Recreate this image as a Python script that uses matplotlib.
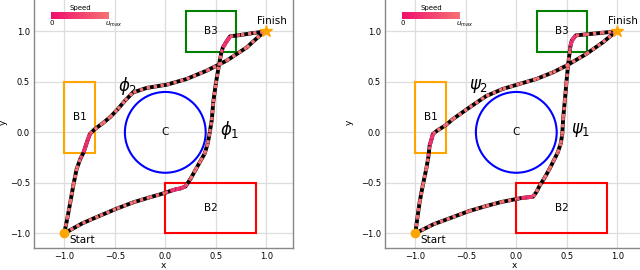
import numpy as np
import matplotlib
matplotlib.use("Agg")
import matplotlib.pyplot as plt
from matplotlib.patches import Rectangle, Circle
from matplotlib.collections import LineCollection
from matplotlib.colors import LinearSegmentedColormap

# ---------------- data ----------------
ticks = [-1.0, -0.5, 0.0, 0.5, 1.0]
tick_labels = ["\u22121.0", "\u22120.5", "0.0", "0.5", "1.0"]

# obstacles: (x0, y0, w, h)
box_B1 = (-1.0, -0.2, 0.3, 0.7)
box_B2 = (0.0, -1.0, 0.9, 0.5)
box_B3 = (0.2, 0.8, 0.5, 0.4)
circle_C = (0.0, 0.0, 0.4)
start = (-1.0, -1.0)
finish = (1.0, 1.0)

# left plot (phi)
phi1_x = [-1.0, -0.82, -0.647, -0.48, -0.317, -0.16, -0.003, 0.05, 0.10, 0.15, 0.20,
          0.25, 0.30, 0.35, 0.39, 0.42, 0.44, 0.46, 0.475, 0.50, 0.53, 0.555,
          0.57, 0.60, 0.64, 0.75, 0.87, 1.0]
phi1_y = [-1.0, -0.90, -0.825, -0.755, -0.693, -0.645, -0.60, -0.58, -0.565, -0.555, -0.535,
          -0.46, -0.37, -0.28, -0.21, -0.11, 0.0, 0.12, 0.30, 0.48, 0.66, 0.79,
          0.84, 0.89, 0.95, 0.965, 0.983, 1.0]
phi1_v = [1.0, 1.0, 1.0, 1.0, 1.0, 1.0, 0.9, 0.35, 0.3, 0.3, 0.4,
          1.0, 1.0, 1.0, 1.0, 1.0, 1.0, 1.0, 1.0, 1.0, 1.0, 0.9,
          0.35, 0.3, 0.4, 1.0, 1.0, 1.0]

phi2_x = [-1.0, -0.97, -0.94, -0.91, -0.877, -0.84, -0.81, -0.79, -0.77, -0.746,
          -0.70, -0.62, -0.548, -0.47, -0.399, -0.317, -0.184, 0.014, 0.21, 0.41, 0.607, 0.805, 0.953, 1.0]
phi2_y = [-1.0, -0.85, -0.69, -0.52, -0.36, -0.26, -0.20, -0.14, -0.08, -0.016,
          0.03, 0.09, 0.149, 0.23, 0.314, 0.396, 0.44, 0.472, 0.528, 0.611, 0.71, 0.84, 0.974, 1.0]
phi2_v = [1.0, 1.0, 1.0, 1.0, 1.0, 0.9, 0.35, 0.3, 0.3, 0.4,
          1.0, 1.0, 1.0, 1.0, 1.0, 1.0, 1.0, 1.0, 1.0, 1.0, 1.0, 1.0, 1.0, 1.0]

# right plot (psi)
psi1_x = [-1.0, -0.82, -0.63, -0.47, -0.30, -0.15, 0.0, 0.05, 0.10, 0.165,
          0.20, 0.23, 0.28, 0.33, 0.37, 0.41, 0.44, 0.455, 0.465, 0.48, 0.495, 0.51, 0.53,
          0.535, 0.55, 0.59, 0.69, 0.84, 1.0]
psi1_y = [-1.0, -0.91, -0.84, -0.78, -0.73, -0.69, -0.66, -0.65, -0.645, -0.637,
          -0.59, -0.53, -0.45, -0.36, -0.28, -0.20, -0.11, -0.02, 0.15, 0.31, 0.48, 0.64, 0.81,
          0.85, 0.91, 0.96, 0.97, 0.985, 1.0]
psi1_v = [1.0, 1.0, 1.0, 1.0, 1.0, 1.0, 0.9, 0.35, 0.3, 0.4,
          1.0, 1.0, 1.0, 1.0, 1.0, 1.0, 1.0, 1.0, 1.0, 1.0, 1.0, 1.0, 0.9,
          0.35, 0.3, 0.4, 1.0, 1.0, 1.0]

psi2_x = [-1.0, -0.98, -0.957, -0.925, -0.891, -0.87, -0.858, -0.84, -0.826,
          -0.78, -0.70, -0.628, -0.462, -0.297, -0.133, 0.033, 0.198, 0.363, 0.495, 0.693, 0.858, 0.957, 1.0]
psi2_y = [-1.0, -0.85, -0.69, -0.52, -0.36, -0.24, -0.13, -0.07, -0.016,
          0.02, 0.07, 0.131, 0.248, 0.36, 0.43, 0.48, 0.528, 0.594, 0.66, 0.776, 0.892, 0.974, 1.0]
psi2_v = [1.0, 1.0, 1.0, 1.0, 1.0, 0.9, 0.35, 0.3, 0.4,
          1.0, 1.0, 1.0, 1.0, 1.0, 1.0, 1.0, 1.0, 1.0, 1.0, 1.0, 1.0, 1.0, 1.0]

cmap = LinearSegmentedColormap.from_list("speed", ["#f0106c", "#f67274"])

# ---------------- figure ----------------
W, H = 640, 270
fig = plt.figure(figsize=(6.4, 2.7), dpi=100)


def px_axes(l, r, b, t):
    return fig.add_axes([l / W, (H - b) / H, (r - l) / W, (b - t) / H])


def draw_path(ax, xs, ys, vs):
    ax.plot(xs, ys, color="black", lw=2.8, zorder=4, solid_capstyle="round")
    pts = np.column_stack([xs, ys])
    segs = [pts[i:i + 2] for i in range(len(pts) - 1)]
    sv = [(vs[i] + vs[i + 1]) / 2 for i in range(len(pts) - 1)]
    styles = ["solid" if v < 0.6 else (0, (1.0, 1.1)) for v in sv]
    widths = [2.8 if v < 0.6 else 2.4 for v in sv]
    lc = LineCollection(segs, colors=[cmap(min(v, 1.0)) for v in sv],
                        linestyles=styles, linewidths=widths, zorder=5,
                        capstyle="butt")
    ax.add_collection(lc)


def panel(ax, p1, p2, lab1, lab2, ylab_x):
    ax.set_xlim(-1.3, 1.26)
    ax.set_ylim(-1.145, 1.35)
    ax.set_facecolor("white")
    ax.grid(True, color="#dddddd", lw=0.9, zorder=0)
    ax.set_axisbelow(True)
    ax.set_xticks(ticks)
    ax.set_yticks(ticks)
    ax.set_xticklabels(tick_labels, fontsize=6)
    ax.set_yticklabels(tick_labels, fontsize=6)
    ax.tick_params(length=0, pad=3)
    for s in ax.spines.values():
        s.set_color("#888888")
        s.set_linewidth(1.0)
    ax.set_xlabel("x", fontsize=6.5, labelpad=0)
    ax.set_ylabel("y", fontsize=6.5)
    ax.yaxis.set_label_coords(ylab_x, 0.5)

    ax.add_patch(Rectangle(box_B1[:2], box_B1[2], box_B1[3], fill=False, ec="#ffa500", lw=1.5, zorder=2))
    ax.add_patch(Rectangle(box_B2[:2], box_B2[2], box_B2[3], fill=False, ec="#ff0000", lw=1.5, zorder=2))
    ax.add_patch(Rectangle(box_B3[:2], box_B3[2], box_B3[3], fill=False, ec="#008000", lw=1.5, zorder=2))
    ax.add_patch(Circle(circle_C[:2], circle_C[2], fill=False, ec="#0000ff", lw=1.5, zorder=2))
    ax.text(-0.85, 0.15, "B1", fontsize=7.5, ha="center", va="center")
    ax.text(0.45, -0.75, "B2", fontsize=7.5, ha="center", va="center")
    ax.text(0.45, 1.0, "B3", fontsize=7.5, ha="center", va="center")
    ax.text(0.0, 0.0, "C", fontsize=7.5, ha="center", va="center")

    draw_path(ax, *p1)
    draw_path(ax, *p2)

    ax.plot(*start, "o", color="#ffa500", ms=6, zorder=6)
    ax.plot(*finish, "*", color="#ffa500", ms=9, zorder=6)
    ax.text(-0.95, -1.065, "Start", fontsize=7.5, ha="left", va="center")
    ax.text(0.905, 1.105, "Finish", fontsize=7.5, ha="left", va="center")
    ax.text(-0.37, 0.46, lab2, fontsize=12, ha="center", va="center")
    ax.text(0.64, 0.02, lab1, fontsize=12, ha="center", va="center")


def speedbar(l, r, b, t):
    cax = px_axes(l, r, b, t)
    grad = np.linspace(0, 1, 256).reshape(1, -1)
    cax.imshow(grad, aspect="auto", cmap=cmap, extent=(0, 1, 0, 1))
    cax.set_xticks([])
    cax.set_yticks([])
    for s in cax.spines.values():
        s.set_visible(False)
    cax.text(0.5, 1.1, "Speed", fontsize=5, ha="center", va="bottom", transform=cax.transAxes)
    cax.text(0.02, -0.15, "0", fontsize=5, ha="center", va="top", transform=cax.transAxes)
    cax.text(1.08, -0.15, r"$u_{max}$", fontsize=5, ha="center", va="top", transform=cax.transAxes)


ax1 = px_axes(34, 34 + 2.56 * 101, 248, 248 - 2.495 * 101)
panel(ax1, (phi1_x, phi1_y, phi1_v), (phi2_x, phi2_y, phi2_v), r"$\phi_1$", r"$\phi_2$", -0.10)
ax2 = px_axes(385, 385 + 2.56 * 101, 248, 248 - 2.495 * 101)
panel(ax2, (psi1_x, psi1_y, psi1_v), (psi2_x, psi2_y, psi2_v), r"$\psi_1$", r"$\psi_2$", -0.12)

speedbar(51, 109, 19, 12)
speedbar(402, 460, 19, 12)

fig.savefig("out.png", dpi=100)
